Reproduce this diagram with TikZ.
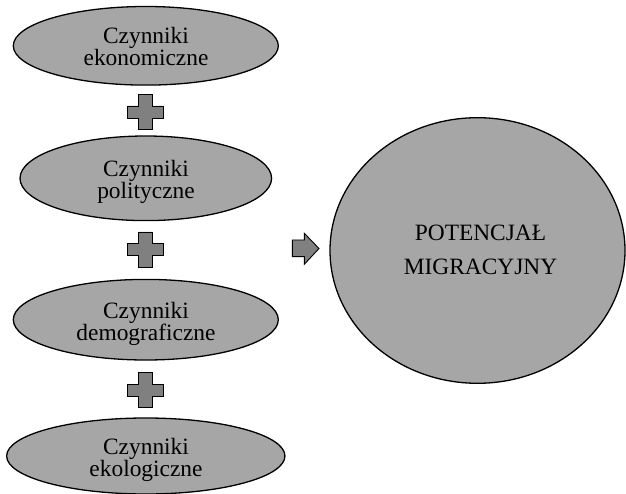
\documentclass[tikz,border=0pt]{standalone}
\usepackage{fontspec}
\setmainfont{Liberation Serif}
\usetikzlibrary{shapes.geometric}
\definecolor{ellfill}{HTML}{A6A6A6}
\definecolor{symfill}{HTML}{808080}
\tikzset{
  factor/.style={ellipse, draw=black, fill=ellfill, line width=1.3pt, inner sep=0pt},
  factortext/.style={anchor=base, align=center, font=\fontsize{23.4}{22}\selectfont, inner sep=0pt},
  bigtext/.style={anchor=base, align=center, font=\fontsize{23.4}{33.3}\selectfont, inner sep=0pt},
  symbol/.style={draw=black, fill=symfill, line width=0.9pt, line join=miter}
}
\begin{document}
\begin{tikzpicture}[x=1pt,y=-1pt]
\useasboundingbox (0,0) rectangle (626,494);
% factor ellipses
\node[factor, minimum width=265pt, minimum height=78.6pt] (e1) at (145.8,45.8) {};
\node[factor, minimum width=251.6pt, minimum height=84.6pt] (e2) at (145.8,178.3) {};
\node[factor, minimum width=265pt, minimum height=80.6pt] (e3) at (145.8,319.7) {};
\node[factor, minimum width=278.3pt, minimum height=76pt] (e4) at (145.8,456) {};
\node[factortext] (t1) at (146,66) {Czynniki\\ekonomiczne};
\node[factortext] (t2) at (146,198.5) {Czynniki\\polityczne};
\node[factortext] (t3) at (146,340) {Czynniki\\demograficzne};
\node[factortext] (t4) at (146,476.5) {Czynniki\\ekologiczne};
% result ellipse
\node[factor, minimum width=295pt, minimum height=265.6pt] (res) at (477.5,250.5) {};
\node[bigtext] (rt) at (480.5,274) {POTENCJAŁ\\MIGRACYJNY};
% plus signs
\foreach \cy in {112,249.5,390}{
  \draw[symbol] (138.3,\cy-17.5) -- (152.3,\cy-17.5) -- (152.3,\cy-6) -- (163.3,\cy-6)
    -- (163.3,\cy+6) -- (152.3,\cy+6) -- (152.3,\cy+17.5) -- (138.3,\cy+17.5)
    -- (138.3,\cy+6) -- (127.3,\cy+6) -- (127.3,\cy-6) -- (138.3,\cy-6) -- cycle;
}
% arrow
\draw[symbol] (292.3,240) -- (304.3,240) -- (304.3,233.3) -- (319,248.5)
  -- (304.3,264.3) -- (304.3,256.7) -- (292.3,256.7) -- cycle;
\end{tikzpicture}
\end{document}
